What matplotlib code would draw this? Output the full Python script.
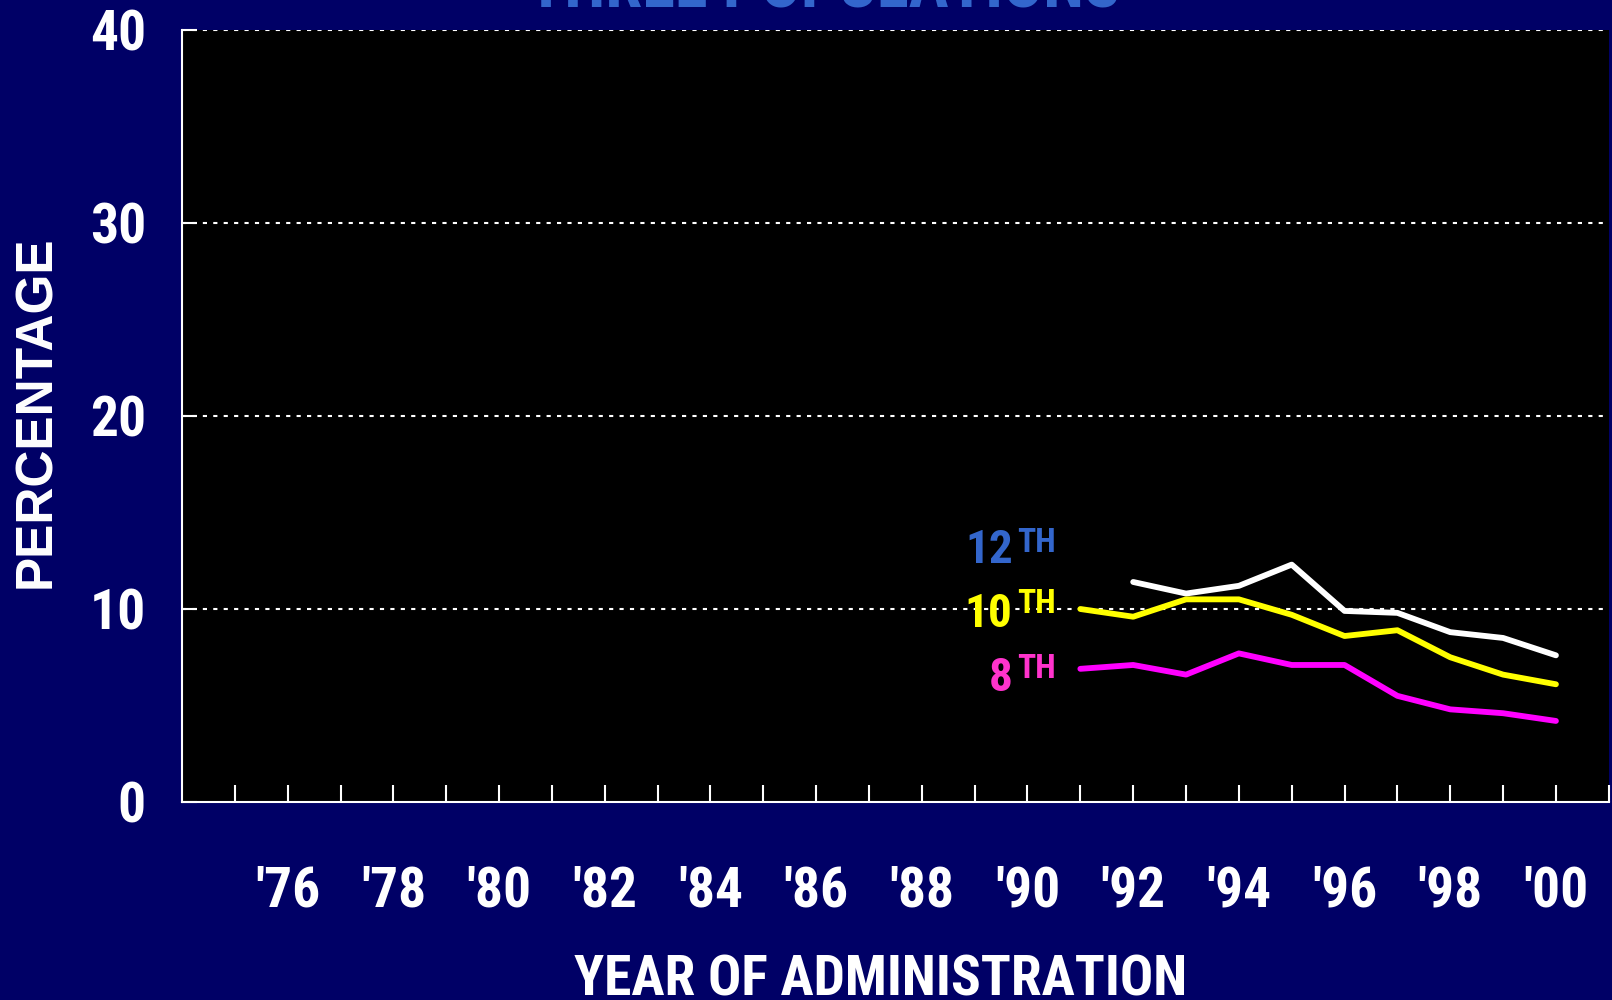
import matplotlib
matplotlib.use("Agg")
import matplotlib.pyplot as plt
from matplotlib import font_manager

# data
years_8 = [1991, 1992, 1993, 1994, 1995, 1996, 1997, 1998, 1999, 2000]
grade_8 = [6.9, 7.1, 6.6, 7.7, 7.1, 7.1, 5.5, 4.8, 4.6, 4.2]
years_10 = [1991, 1992, 1993, 1994, 1995, 1996, 1997, 1998, 1999, 2000]
grade_10 = [10.0, 9.6, 10.5, 10.5, 9.7, 8.6, 8.9, 7.5, 6.6, 6.1]
years_12 = [1992, 1993, 1994, 1995, 1996, 1997, 1998, 1999, 2000]
grade_12 = [11.4, 10.8, 11.2, 12.3, 9.9, 9.8, 8.8, 8.5, 7.6]

tick_years = list(range(1976, 2001, 2))
tick_labels = ["'" + str(y)[2:] for y in tick_years]
minor_years = list(range(1975, 2002, 2))
y_ticks = [0, 10, 20, 30, 40]

NAVY = "#000066"
BLUE = "#3366cc"

# pick a narrow bold face close to Arial Narrow Bold
bold_families = {f.name for f in font_manager.fontManager.ttflist if f.weight >= 700}
candidates = ["Liberation Sans Narrow", "Arial Narrow", "Archivo Narrow", "Roboto Condensed",
              "IBM Plex Sans Condensed", "PT Sans Narrow"]
narrow = next((c for c in candidates if c in bold_families), "Liberation Sans")
NARROW = [narrow, "DejaVu Sans"]
WIDE = ["Liberation Sans", "DejaVu Sans"]

fig = plt.figure(figsize=(16.12, 10), dpi=100, facecolor=NAVY)
ax = fig.add_axes([0.1129, 0.198, 0.998 - 0.1129, 0.970 - 0.198])
ax.set_facecolor("black")

for x, y, c in [(years_12, grade_12, "white"), (years_10, grade_10, "#ffff00"), (years_8, grade_8, "#ff00ff")]:
    ax.plot(x, y, color=c, lw=4.2, solid_capstyle="round", solid_joinstyle="round", zorder=3)

ax.set_xlim(1974, 2001)
ax.set_ylim(0, 40)
ax.set_yticks(y_ticks)
ax.set_yticklabels([str(v) for v in y_ticks], family=NARROW, fontweight="bold", fontsize=40, color="white")
ax.set_xticks(tick_years)
ax.set_xticklabels(tick_labels, family=NARROW, fontweight="bold", fontsize=40, color="white")
ax.set_xticks(minor_years, minor=True)
ax.tick_params(axis="x", which="both", direction="in", length=12, width=1.5, color="white", pad=46)
ax.tick_params(axis="y", direction="in", length=10.5, width=1.5, color="white", pad=26)

for v in y_ticks[1:]:
    ax.axhline(v, color="white", lw=1.5, dashes=(2, 3), zorder=1)

for s in ["top", "right"]:
    ax.spines[s].set_visible(False)
for s in ["left", "bottom"]:
    ax.spines[s].set_color("white")
    ax.spines[s].set_linewidth(1.5)

# grade labels
def grade_label(y_num, y_sup, num, color):
    ax.text(1989.72, y_num, num, ha="right", va="baseline", color=color,
            family=NARROW, fontweight="bold", fontsize=34)
    ax.text(1989.80, y_sup, "TH", ha="left", va="baseline", color=color,
            family=NARROW, fontweight="bold", fontsize=24)

grade_label(12.40, 12.97, "12", BLUE)
grade_label(9.08, 9.81, "10", "#ffff00")
grade_label(5.76, 6.43, "8", "#ff33cc")

fig.text(0.023, 0.588, "PERCENTAGE", rotation=90, ha="center", va="center",
         color="white", family=WIDE, fontweight="bold", fontsize=37)
fig.text(0.546, 0.004, "YEAR OF ADMINISTRATION", ha="center", va="baseline",
         color="white", family=NARROW, fontweight="bold", fontsize=40)
fig.text(0.511, 0.992, "THREE POPULATIONS", ha="center", va="baseline",
         color=BLUE, family=NARROW, fontweight="bold", fontsize=48)

fig.savefig("out.png", dpi=100, facecolor=NAVY)
